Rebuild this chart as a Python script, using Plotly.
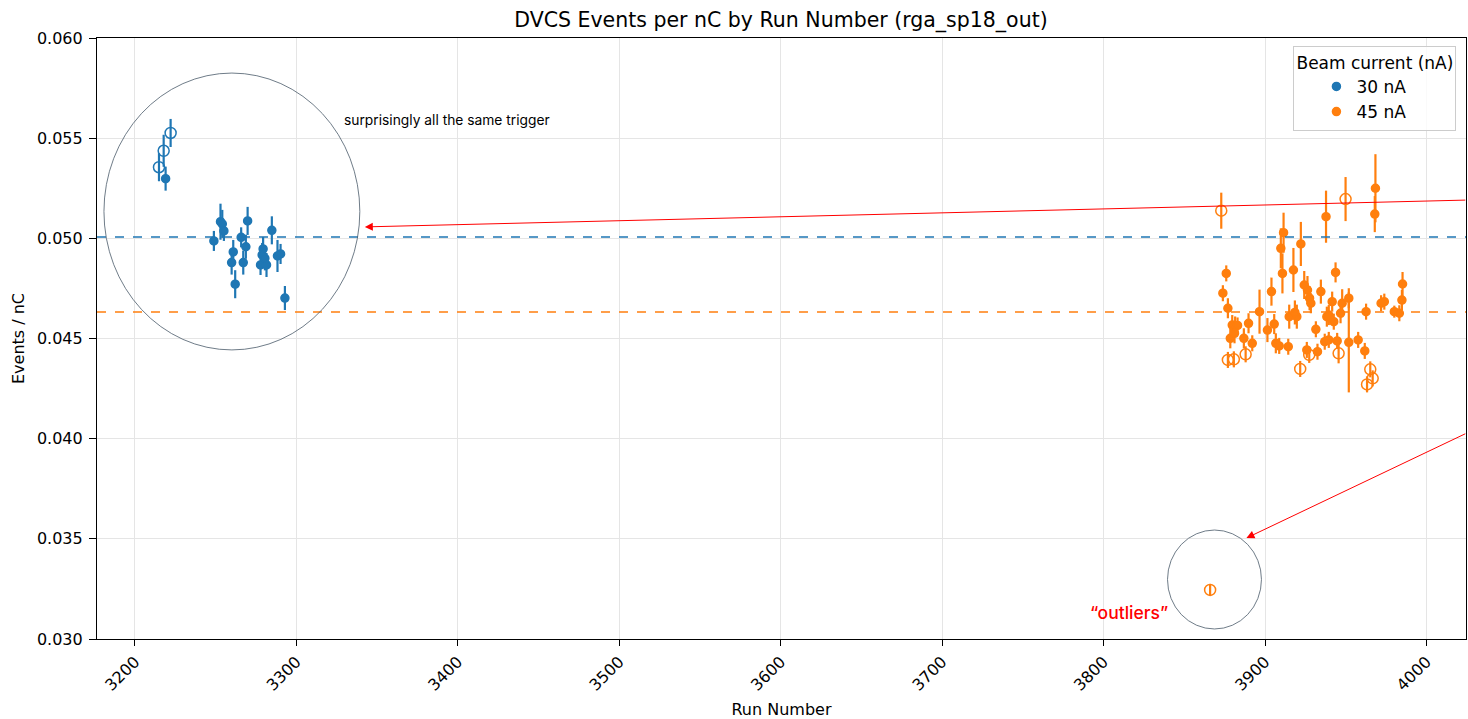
import plotly.graph_objects as go

# ---- data ----
blue_runs = [3219.0, 3248.9, 3253.0, 3254.1, 3255.1, 3265.8, 3260.9, 3259.9, 3262.1, 3267.1,
             3268.7, 3269.8, 3284.8, 3279.4, 3278.8, 3277.8, 3281.5, 3280.5, 3288.3, 3290.2, 3292.9]
blue_vals = [0.05298, 0.04987, 0.05083, 0.05072, 0.05037, 0.05005, 0.04932, 0.04879, 0.04771, 0.04879,
             0.04958, 0.05087, 0.05040, 0.04947, 0.04917, 0.04867, 0.04867, 0.04900, 0.04912, 0.04922, 0.04702]
blue_errs = [0.0006, 0.0005, 0.0009, 0.0007, 0.0005, 0.0005, 0.0006, 0.0006, 0.0007, 0.0006,
             0.0006, 0.0007, 0.0007, 0.0006, 0.0006, 0.0005, 0.0006, 0.0006, 0.0008, 0.0005, 0.0006]

blue_open_runs = [3214.9, 3217.8, 3222.1]
blue_open_vals = [0.05355, 0.05437, 0.05526]
blue_open_errs = [0.0007, 0.0008, 0.0007]

orange_runs = [3876.0, 3873.9, 3877.0, 3896.6, 3879.7, 3881.5, 3883.0, 3878.5, 3881.1, 3889.8,
               3886.9, 3892.1, 3901.5, 3904.0, 3905.7, 3906.7, 3908.8, 3909.8, 3911.5, 3910.8,
               3915.0, 3914.4, 3917.6, 3919.7, 3918.5, 3922.2, 3924.3, 3926.3, 3927.6, 3928.4,
               3925.9, 3931.5, 3932.5, 3934.6, 3937.0, 3937.8, 3938.3, 3943.7, 3941.6, 3947.8,
               3951.9, 3946.8, 3939.5, 3942.6, 3939.5, 3944.7, 3951.9, 3957.7, 3961.8, 3962.6,
               3968.0, 3968.4, 3971.9, 3973.9, 3980.1, 3983.2, 3984.8, 3985.2]
orange_vals = [0.04825, 0.04726, 0.04651, 0.04634, 0.04567, 0.04560, 0.04565, 0.04501, 0.04526, 0.04576,
               0.04501, 0.04476, 0.04542, 0.04734, 0.04572, 0.04476, 0.04463, 0.04950, 0.05028, 0.04825,
               0.04609, 0.04459, 0.04842, 0.04609, 0.04630, 0.04972, 0.04767, 0.04742, 0.04701, 0.04676,
               0.04443, 0.04546, 0.04434, 0.04734, 0.04484, 0.05108, 0.04609, 0.04830, 0.04684, 0.04676,
               0.04701, 0.04626, 0.04617, 0.04584, 0.04493, 0.04488, 0.04481, 0.04493, 0.04438, 0.04634,
               0.05121, 0.05250, 0.04676, 0.04684, 0.04634, 0.04626, 0.04692, 0.04772]
orange_errs = [0.0004, 0.0004, 0.0005, 0.0011, 0.0005, 0.0005, 0.0004, 0.0005, 0.0005, 0.0005,
               0.0005, 0.0004, 0.0006, 0.0007, 0.0005, 0.0005, 0.0004, 0.0010, 0.0010, 0.0010,
               0.0006, 0.0004, 0.0011, 0.0006, 0.0006, 0.0011, 0.0007, 0.0007, 0.0006, 0.0005,
               0.0004, 0.0004, 0.0004, 0.0006, 0.0004, 0.0013, 0.0005, 0.0005, 0.0005, 0.0007,
               0.0005, 0.0005, 0.0005, 0.0004, 0.0004, 0.0004, 0.0025, 0.0004, 0.0004, 0.0004,
               0.0009, 0.0017, 0.0004, 0.0004, 0.0003, 0.0004, 0.0005, 0.0006]

orange_open_runs = [3872.9, 3877.0, 3880.7, 3888.0, 3921.8, 3927.4, 3949.9, 3945.6, 3965.2, 3966.7, 3963.2, 3866.0]
orange_open_vals = [0.05138, 0.04393, 0.04396, 0.04421, 0.04348, 0.04418, 0.05196, 0.04426, 0.04346, 0.04301, 0.04271, 0.03245]
orange_open_errs = [0.0009, 0.0004, 0.0004, 0.0004, 0.0004, 0.0004, 0.0011, 0.0005, 0.0004, 0.0004, 0.0004, 0.0003]

blue_mean = 0.05007
orange_mean = 0.04632

x_ticks = [3200, 3300, 3400, 3500, 3600, 3700, 3800, 3900, 4000]
y_ticks = [0.030, 0.035, 0.040, 0.045, 0.050, 0.055, 0.060]

BLUE = "#1f77b4"
ORANGE = "#ff7f0e"
FONT = "DejaVu Sans"

fig = go.Figure()

def add(runs, vals, errs, color, name, open_marker, show):
    fig.add_trace(go.Scatter(
        x=runs, y=vals, mode="markers", name=name, showlegend=show,
        marker=dict(
            symbol="circle-open" if open_marker else "circle",
            size=11 if open_marker else 8,
            color=color,
            line=dict(width=1.5, color=color),
        ),
        error_y=dict(type="data", array=errs, visible=True, thickness=2.2, width=0, color=color),
        cliponaxis=False,
    ))

add(blue_runs, blue_vals, blue_errs, BLUE, "30 nA", False, True)
add(blue_open_runs, blue_open_vals, blue_open_errs, BLUE, "30 nA", True, False)
add(orange_runs, orange_vals, orange_errs, ORANGE, "45 nA", False, True)
add(orange_open_runs, orange_open_vals, orange_open_errs, ORANGE, "45 nA", True, False)

shapes = [
    dict(type="line", xref="paper", x0=0, x1=1, yref="y", y0=blue_mean, y1=blue_mean,
         line=dict(color=BLUE, width=1.5, dash="dash"), layer="above"),
    dict(type="line", xref="paper", x0=0, x1=1, yref="y", y0=orange_mean, y1=orange_mean,
         line=dict(color=ORANGE, width=1.5, dash="dash"), layer="above"),
    dict(type="circle", xref="x", yref="y", x0=3180.8, x1=3339.3, y0=0.04443, y1=0.05825,
         line=dict(color="#4a5a6a", width=0.8)),
    dict(type="circle", xref="x", yref="y", x0=3839.6, x1=3897.8, y0=0.03050, y1=0.03544,
         line=dict(color="#4a5a6a", width=0.8)),
]

annotations = [
    dict(x=3342.4, y=0.05057, xref="x", yref="y", ax=4025, ay=0.05191, axref="x", ayref="y",
         text="", showarrow=True, arrowhead=2, arrowsize=1.6, arrowwidth=1, arrowcolor="red"),
    dict(x=3888.5, y=0.03504, xref="x", yref="y", ax=4025, ay=0.04028, axref="x", ayref="y",
         text="", showarrow=True, arrowhead=2, arrowsize=1.6, arrowwidth=1, arrowcolor="red"),
    dict(x=3328.5, y=0.05591, xref="x", yref="y", text="surprisingly all the same trigger",
         showarrow=False, xanchor="left", yanchor="middle",
         font=dict(family="Inter", size=13.8, color="black")),
    dict(x=3841, y=0.03130, xref="x", yref="y", text="\u201coutliers\u201d",
         showarrow=False, xanchor="right", yanchor="middle",
         font=dict(family="Inter", size=17.5, color="red", weight=500)),
]

fig.update_layout(
    width=1468, height=719,
    margin=dict(l=97, r=2, t=38, b=80, autoexpand=False),
    paper_bgcolor="white", plot_bgcolor="white",
    font=dict(family=FONT, size=16, color="black"),
    title=dict(text="DVCS Events per nC by Run Number (rga_sp18_out)", x=0.532, xanchor="center",
               y=0.972, yanchor="middle", font=dict(family=FONT, size=20.5, color="black")),
    shapes=shapes,
    annotations=annotations,
    legend=dict(
        title=dict(text="Beam current (nA)", side="top center", font=dict(family=FONT, size=17)),
        x=0.993, y=0.987, xanchor="right", yanchor="top",
        bgcolor="rgba(255,255,255,0.8)", bordercolor="#cccccc", borderwidth=1,
        font=dict(family=FONT, size=17), tracegroupgap=0, itemwidth=30, indentation=22,
    ),
    xaxis=dict(
        title=dict(text="Run Number", font=dict(family=FONT, size=16), standoff=11),
        range=[3176.5, 4024.5], tickvals=x_ticks, ticktext=[str(t) for t in x_ticks],
        tickangle=-45, ticks="outside", ticklen=6, tickcolor="black",
        showline=True, linecolor="black", linewidth=1.2, mirror=True,
        showgrid=True, gridcolor="#e5e5e5", gridwidth=1, zeroline=False,
        tickfont=dict(family=FONT, size=16), automargin=False,
    ),
    yaxis=dict(
        title=dict(text="Events / nC", font=dict(family=FONT, size=16), standoff=8),
        range=[0.030, 0.060], tickvals=y_ticks, ticktext=[f"{t:.3f}" for t in y_ticks],
        ticks="outside", ticklen=7, tickcolor="black", ticklabelstandoff=3,
        showline=True, linecolor="black", linewidth=1.2, mirror=True,
        showgrid=True, gridcolor="#e5e5e5", gridwidth=1, zeroline=False,
        tickfont=dict(family=FONT, size=16), automargin=False,
    ),
)

fig.write_html(
    "out.html",
    config={"displayModeBar": False},
    post_script="document.body.style.margin='0';document.body.style.overflow='hidden';",
)
